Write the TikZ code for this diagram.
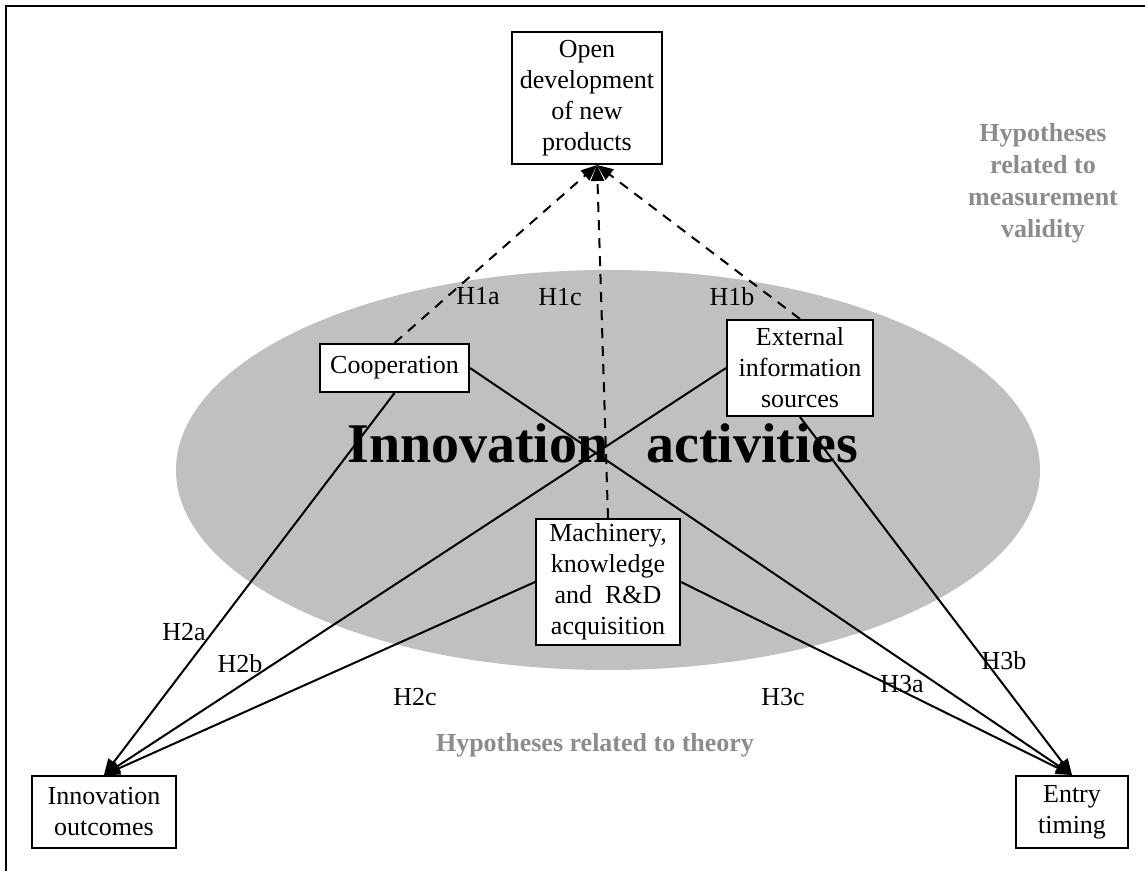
\documentclass[tikz,border=0pt]{standalone}
\usepackage{fontspec}
\setmainfont{Liberation Serif}
\usetikzlibrary{arrows.meta}
\definecolor{ovalgray}{RGB}{192,192,192}
\definecolor{hypgray}{RGB}{140,140,140}

\begin{document}
\begin{tikzpicture}[x=0.5pt,y=-0.5pt,
    box/.style={draw,line width=1pt,fill=white,align=center,inner sep=2pt,font=\fontsize{13}{15.5}\selectfont},
    lab/.style={font=\fontsize{13}{15.5}\selectfont},
    hyp/.style={text=hypgray,align=center,font=\bfseries\fontsize{13}{16}\selectfont},
    big/.style={font=\bfseries\fontsize{28}{32}\selectfont},
    link/.style={line width=1pt,-{Triangle[length=8pt,width=6.5pt]}}]
  \useasboundingbox (0,0) rectangle (1145,871);
  \draw[line width=1pt] (6,871) -- (6,6) -- (1145,6);
  \fill[ovalgray] (608,470) ellipse [x radius=216pt, y radius=100pt];
  \node[big] (innov) at (478,443) {Innovation};
  \node[big] (activ) at (752,443) {activities};
  \node[hyp] (hypmeas) at (1043,183) {Hypotheses\\related to\\measurement\\validity};
  \node[hyp] (hyptheo) at (595,745) {Hypotheses related to theory};
  \node[box,minimum width=75pt,minimum height=66pt] (open) at (587,98) {Open\\development\\of new\\products};
  \node[box,minimum width=74.5pt,minimum height=24pt] (coop) at (394.5,368) {Cooperation};
  \node[box,minimum width=73pt,minimum height=48pt] (ext) at (800,368) {External\\information\\sources};
  \node[box,minimum width=72pt,minimum height=63pt] (mach) at (608,582) {Machinery,\\knowledge\\and~~R\&D\\acquisition};
  \node[box,minimum width=72pt,minimum height=36pt] (outc) at (104,812) {Innovation\\outcomes};
  \node[box,minimum width=56pt,minimum height=36pt] (entry) at (1072,812) {Entry\\timing};
  \draw[link,dash pattern=on 5pt off 4pt] (coop.north) -- ([xshift=5pt]open.south);
  \draw[link,dash pattern=on 5pt off 4pt] (mach.north) -- ([xshift=5pt]open.south);
  \draw[link,dash pattern=on 5pt off 4pt] (ext.north) -- ([xshift=5pt]open.south);
  \draw[link] (coop.south) -- (outc.north);
  \draw[link] (ext.west) -- (outc.north);
  \draw[link] (mach.west) -- (outc.north);
  \draw[link] (coop.east) -- (entry.north);
  \draw[link] (ext.south) -- (entry.north);
  \draw[link] (mach.east) -- (entry.north);
  \node[lab] (h1a) at (478,296) {H1a};
  \node[lab] (h1c) at (560,297) {H1c};
  \node[lab] (h1b) at (732,297) {H1b};
  \node[lab] (h2a) at (184,632) {H2a};
  \node[lab] (h2b) at (240,664) {H2b};
  \node[lab] (h2c) at (415,697) {H2c};
  \node[lab] (h3c) at (783,697) {H3c};
  \node[lab] (h3a) at (902,684) {H3a};
  \node[lab] (h3b) at (1004,661) {H3b};
\end{tikzpicture}
\end{document}
